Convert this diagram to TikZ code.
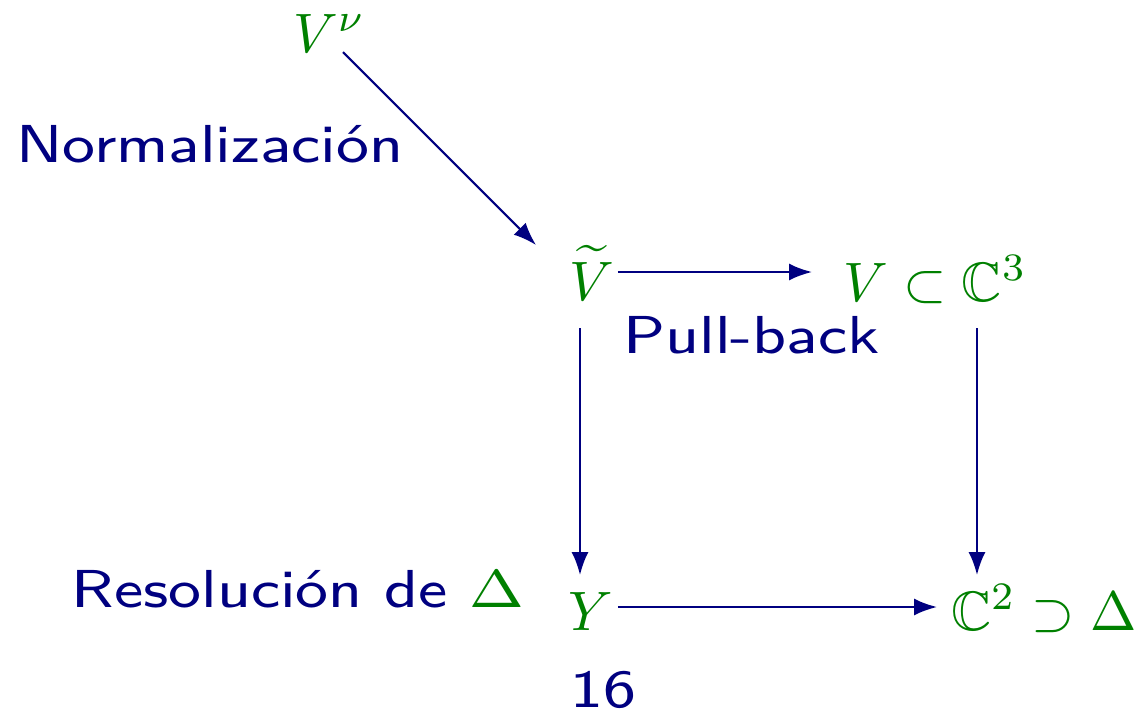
\documentclass[tikz,border=0pt]{standalone}
\usepackage{amssymb}
\usetikzlibrary{arrows.meta,calc}
\definecolor{navy}{RGB}{0,0,128}
\definecolor{mgreen}{RGB}{0,128,0}
\begin{document}
\begin{tikzpicture}[x=0.01cm,y=-0.01cm,
  lbl/.style={inner sep=0pt,anchor=base west,text=navy,xscale=2.2,yscale=1.9,font=\fontsize{8}{10}\selectfont\sffamily},
  mth/.style={inner sep=0pt,anchor=base west,text=mgreen,scale=1.58,font=\fontsize{10}{12}\selectfont},
  arr/.style={draw=navy,line width=0.6pt,-{Latex[length=6.5pt,width=4.8pt]}}]
\useasboundingbox (0,0) rectangle (1144,711);
\node[mth] (Vnu) at (292,52) {$V^\nu$};
\node[mth] (Vt) at (568,300) {$\widetilde{V}$};
\node[mth] (VC) at (842,301) {$V\subset\mathbb{C}^3$};
\node[mth] (Y) at (567,630) {$Y$};
\node[mth] (C2) at (950,630) {$\mathbb{C}^2\supset\Delta$};
\node[lbl] (norm) at (15,162) {Normalización};
\node[lbl] (pull) at (622,353) {Pull-back};
\node[lbl] (res) at (70,607) {Resolución de \textcolor{mgreen}{$\Delta$}};
\node[lbl] (num) at (569,707) {16};
\draw[arr] ($(Vnu.base west)+(51,0)$) -- ($(Vt.base west)+(-32,-55)$);
\draw[arr] ($(Vt.base west)+(50,-28)$) -- ($(VC.base west)+(-30,-29)$);
\draw[arr] ($(Vt.base west)+(12,28)$) -- ($(Y.base west)+(13,-55)$);
\draw[arr] ($(VC.base west)+(135,27)$) -- ($(C2.base west)+(27,-55)$);
\draw[arr] ($(Y.base west)+(51,-23)$) -- ($(C2.base west)+(-13,-23)$);
\end{tikzpicture}
\end{document}
